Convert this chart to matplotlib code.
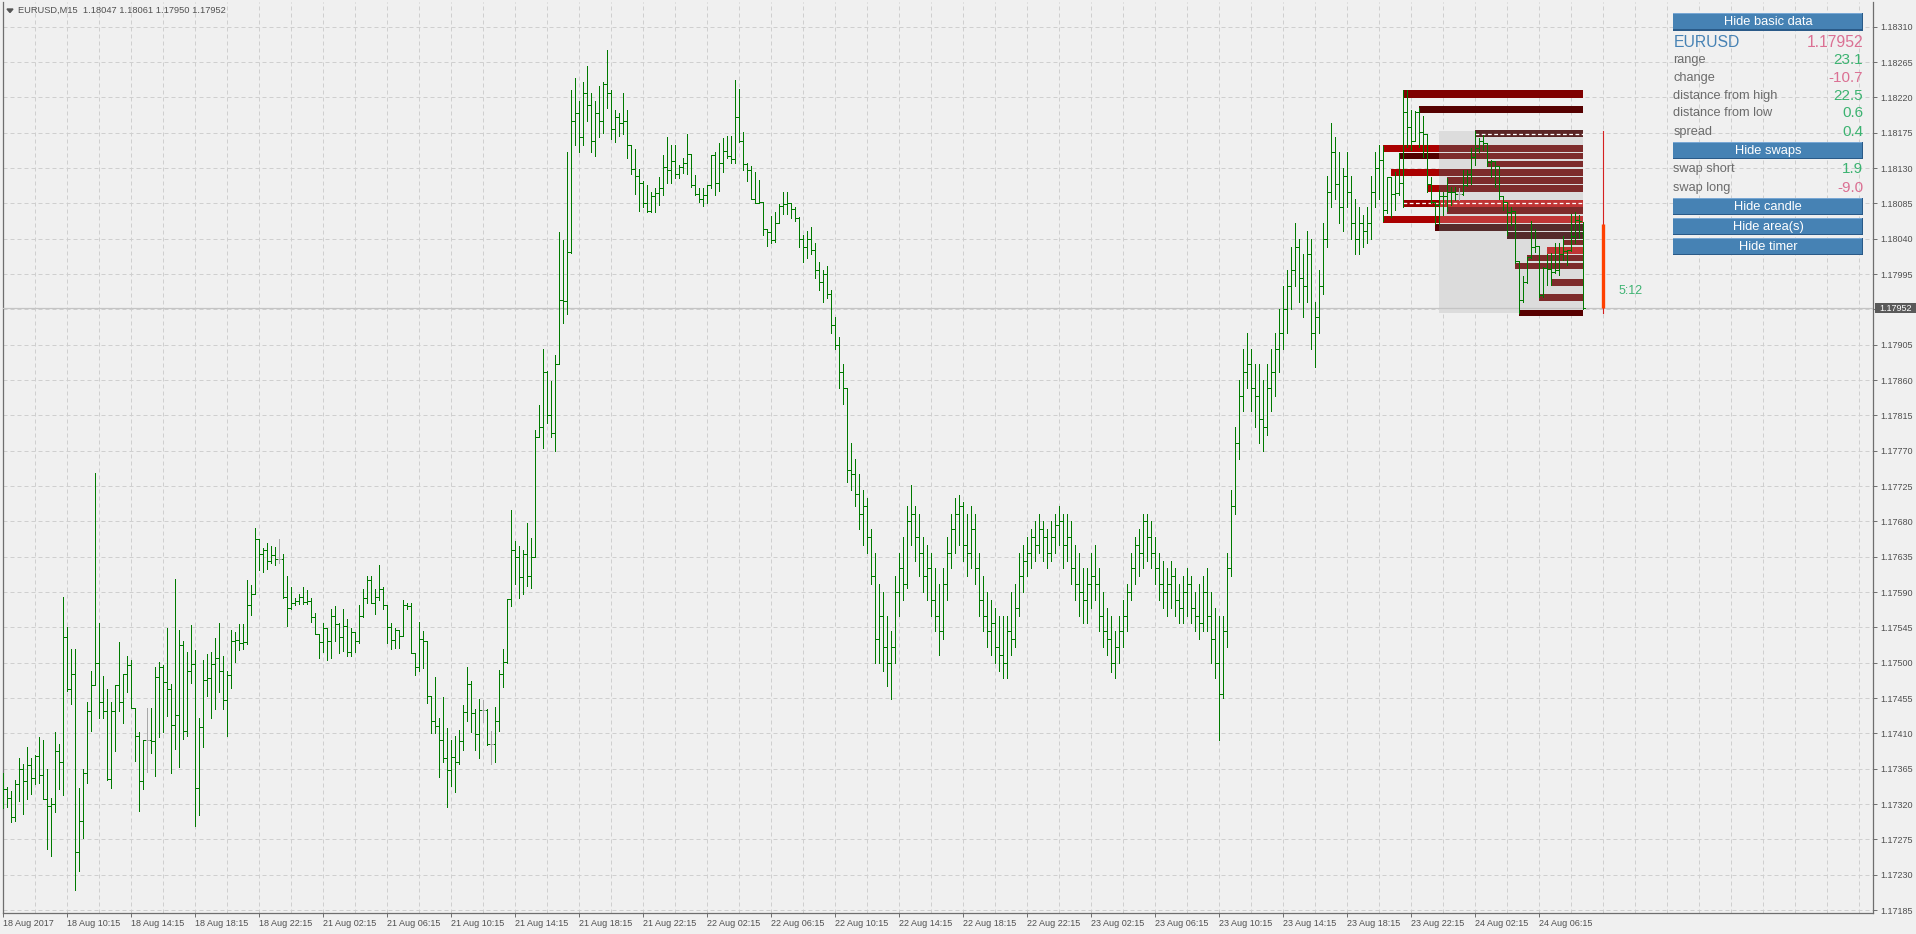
import matplotlib.pyplot as plt
from matplotlib.collections import LineCollection
from matplotlib.patches import Rectangle, Polygon

plt.rcParams['font.family'] = ['Liberation Sans', 'DejaVu Sans']

# prices are kept in points (1e-5) above 1.17000, one entry per M15 bar
BASE = 1.17

bar_open = [
    342, 339, 328, 304, 346, 364, 349, 370, 353, 381,
    357, 327, 318, 320, 387, 373, 533, 467, 486, 259,
    299, 360, 438, 472, 499, 450, 438, 352, 438, 471,
    450, 485, 497, 442, 407, 349, 401, 401, 400, 482,
    495, 475, 466, 421, 433, 523, 413, 490, 498, 341,
    418, 478, 481, 498, 506, 490, 453, 484, 528, 529,
    525, 526, 573, 587, 657, 638, 644, 630, 637, 632,
    632, 584, 570, 576, 578, 584, 577, 578, 558, 537,
    526, 544, 527, 559, 549, 533, 547, 513, 539, 527,
    559, 582, 605, 576, 584, 594, 573, 546, 529, 542,
    534, 573, 572, 512, 494, 530, 527, 458, 426, 420,
    402, 378, 363, 380, 373, 400, 437, 473, 436, 409,
    440, 440, 396, 396, 426, 486, 501, 581, 643, 634,
    609, 639, 611, 635, 788, 800, 870, 816, 792, 881,
    962, 961, 1023, 1190, 1200, 1170, 1225, 1210, 1165, 1200,
    1190, 1237, 1225, 1180, 1195, 1188, 1190, 1160, 1129, 1120,
    1111, 1086, 1075, 1094, 1098, 1105, 1131, 1128, 1139, 1123,
    1131, 1136, 1148, 1109, 1097, 1091, 1096, 1108, 1146, 1111,
    1137, 1152, 1145, 1141, 1195, 1164, 1135, 1128, 1091, 1086,
    1087, 1052, 1049, 1039, 1060, 1082, 1084, 1085, 1078, 1066,
    1040, 1030, 1040, 1025, 1000, 985, 995, 970, 930, 905,
    870, 850, 745, 740, 715, 690, 700, 660, 610, 530,
    560, 520, 500, 520, 590, 620, 600, 680, 690, 660,
    640, 610, 620, 580, 560, 540, 600, 640, 670, 690,
    700, 650, 640, 670, 620, 580, 560, 540, 550, 520,
    510, 500, 540, 530, 570, 610, 630, 640, 660, 650,
    670, 660, 640, 660, 675, 680, 650, 660, 620, 600,
    590, 580, 600, 610, 600, 560, 540, 530, 500, 520,
    540, 560, 590, 620, 650, 640, 680, 660, 640, 620,
    600, 590, 600, 610, 580, 570, 590, 600, 570, 560,
    550, 590, 560, 530, 500, 460, 540, 620, 700, 780,
    840, 870, 880, 850, 840, 810, 800, 850, 870, 900,
    920, 950, 980, 1000, 1030, 990, 980, 1020, 920, 940,
    980, 1040, 1100, 1150, 1110, 1080, 1120, 1100, 1060, 1040,
    1060, 1050, 1060, 1100, 1130, 1140, 1077, 1118, 1097, 1098,
    1111, 1202, 1182, 1165, 1201, 1176, 1174, 1110, 1087, 1083,
    1094, 1095, 1099, 1100, 1097, 1097, 1108, 1123, 1144, 1155,
    1164, 1162, 1138, 1139, 1132, 1094, 1087, 1074, 1075, 1011,
    962, 985, 1017, 1030, 1031, 968, 1003, 1001, 998, 1000,
    1021, 1024, 1025, 1043, 1064, 1047]
bar_high = [
    359, 342, 336, 351, 379, 371, 392, 379, 382, 406,
    401, 365, 328, 412, 397, 584, 546, 518, 518, 340,
    364, 450, 489, 741, 550, 483, 466, 450, 472, 526,
    486, 508, 503, 442, 412, 402, 442, 442, 495, 501,
    497, 544, 473, 606, 542, 528, 514, 548, 516, 430,
    503, 511, 513, 532, 550, 509, 489, 542, 539, 549,
    549, 605, 599, 672, 657, 646, 652, 649, 647, 657,
    638, 610, 596, 583, 587, 596, 593, 583, 563, 537,
    551, 544, 568, 572, 550, 569, 556, 544, 539, 573,
    594, 610, 610, 594, 624, 596, 573, 551, 544, 542,
    580, 576, 576, 512, 552, 540, 527, 458, 482, 430,
    456, 417, 402, 407, 414, 446, 495, 477, 441, 454,
    452, 441, 413, 443, 491, 517, 581, 695, 655, 649,
    644, 678, 659, 796, 828, 899, 872, 859, 892, 1049,
    1039, 1150, 1230, 1245, 1215, 1240, 1260, 1225, 1215, 1235,
    1239, 1280, 1230, 1204, 1200, 1225, 1204, 1160, 1154, 1129,
    1114, 1109, 1099, 1105, 1119, 1146, 1170, 1160, 1159, 1134,
    1143, 1174, 1148, 1121, 1105, 1104, 1109, 1146, 1150, 1162,
    1168, 1171, 1171, 1242, 1231, 1176, 1136, 1132, 1125, 1115,
    1087, 1052, 1069, 1074, 1084, 1099, 1099, 1085, 1081, 1068,
    1045, 1050, 1055, 1035, 1010, 1000, 1005, 975, 940, 915,
    880, 850, 780, 760, 740, 720, 710, 670, 640, 600,
    590, 560, 540, 610, 640, 660, 700, 726, 700, 690,
    660, 650, 640, 620, 600, 620, 660, 690, 710, 714,
    705, 690, 700, 690, 640, 610, 590, 580, 570, 560,
    560, 560, 590, 600, 640, 650, 660, 670, 680, 690,
    680, 670, 680, 690, 700, 690, 690, 680, 650, 640,
    620, 620, 640, 650, 620, 590, 570, 560, 540, 560,
    580, 600, 640, 660, 670, 690, 690, 680, 660, 640,
    630, 620, 630, 620, 600, 610, 620, 610, 590, 600,
    610, 620, 590, 570, 560, 560, 640, 720, 800, 860,
    900, 920, 900, 880, 880, 860, 880, 900, 920, 950,
    980, 1000, 1030, 1060, 1040, 1020, 1050, 1040, 960, 1000,
    1060, 1120, 1188, 1170, 1150, 1130, 1150, 1120, 1090, 1080,
    1070, 1080, 1120, 1150, 1160, 1158, 1119, 1119, 1125, 1149,
    1229, 1229, 1204, 1203, 1207, 1196, 1174, 1119, 1087, 1102,
    1100, 1117, 1106, 1106, 1104, 1128, 1128, 1156, 1177, 1168,
    1172, 1162, 1140, 1139, 1132, 1094, 1087, 1081, 1075, 1011,
    992, 1017, 1062, 1053, 1031, 1004, 1021, 1022, 1034, 1034,
    1043, 1026, 1072, 1074, 1070, 1061]
bar_low = [
    315, 316, 297, 299, 324, 307, 326, 333, 346, 347,
    327, 263, 254, 310, 339, 331, 464, 447, 211, 235,
    277, 347, 413, 471, 430, 430, 351, 341, 388, 438,
    423, 463, 442, 375, 311, 339, 361, 385, 356, 405,
    412, 432, 360, 390, 367, 403, 407, 474, 292, 306,
    392, 458, 430, 441, 463, 441, 407, 468, 501, 516,
    518, 524, 561, 587, 618, 616, 619, 627, 624, 627,
    583, 547, 569, 574, 575, 575, 575, 552, 537, 506,
    513, 504, 506, 527, 512, 515, 508, 509, 514, 525,
    558, 576, 576, 562, 580, 569, 525, 518, 519, 519,
    534, 568, 512, 484, 489, 493, 449, 410, 410, 354,
    373, 316, 343, 335, 371, 389, 426, 412, 389, 378,
    424, 395, 371, 373, 413, 469, 500, 572, 600, 583,
    587, 598, 595, 635, 787, 774, 805, 788, 769, 880,
    933, 944, 1022, 1160, 1150, 1160, 1190, 1150, 1145, 1170,
    1175, 1206, 1167, 1163, 1171, 1173, 1143, 1122, 1097, 1075,
    1080, 1074, 1074, 1074, 1083, 1096, 1111, 1111, 1117, 1117,
    1124, 1123, 1106, 1096, 1087, 1082, 1086, 1105, 1096, 1101,
    1125, 1143, 1136, 1137, 1163, 1128, 1114, 1090, 1086, 1086,
    1045, 1031, 1035, 1036, 1060, 1071, 1071, 1067, 1063, 1030,
    1010, 1015, 1020, 990, 975, 960, 965, 920, 900, 850,
    830, 730, 720, 700, 670, 650, 640, 600, 500, 500,
    490, 470, 454, 500, 560, 580, 595, 650, 630, 610,
    590, 580, 560, 540, 510, 530, 580, 620, 640, 650,
    630, 610, 620, 600, 560, 540, 520, 510, 500, 490,
    480, 480, 510, 520, 560, 590, 610, 620, 630, 640,
    630, 620, 630, 640, 650, 620, 630, 600, 580, 560,
    550, 550, 570, 580, 540, 520, 510, 488, 480, 500,
    520, 540, 580, 600, 610, 620, 630, 620, 600, 580,
    570, 560, 570, 560, 550, 550, 560, 550, 540, 530,
    540, 540, 500, 480, 402, 455, 520, 610, 690, 760,
    820, 850, 820, 800, 780, 770, 790, 820, 840, 870,
    900, 920, 950, 980, 960, 940, 960, 900, 877, 920,
    970, 1030, 1080, 1090, 1060, 1050, 1080, 1040, 1020, 1020,
    1030, 1035, 1040, 1080, 1090, 1062, 1073, 1068, 1077, 1096,
    1081, 1157, 1153, 1164, 1157, 1144, 1100, 1086, 1059, 1059,
    1070, 1075, 1083, 1089, 1089, 1096, 1107, 1110, 1134, 1151,
    1153, 1132, 1119, 1106, 1091, 1077, 1045, 1057, 1009, 946,
    960, 983, 1015, 1023, 966, 966, 981, 981, 996, 994,
    1013, 1006, 1024, 1034, 1041, 950]
bar_close = [
    339, 328, 304, 346, 364, 349, 370, 353, 381, 357,
    327, 318, 320, 387, 373, 533, 467, 486, 259, 299,
    360, 438, 472, 499, 450, 438, 352, 438, 471, 450,
    485, 497, 442, 407, 349, 401, 401, 400, 482, 495,
    475, 466, 421, 433, 523, 413, 490, 498, 341, 418,
    478, 481, 498, 506, 490, 453, 484, 528, 529, 525,
    526, 573, 587, 657, 638, 644, 630, 637, 632, 632,
    584, 570, 576, 578, 584, 577, 578, 558, 537, 526,
    544, 527, 559, 549, 533, 547, 513, 539, 527, 559,
    582, 605, 576, 584, 594, 573, 546, 529, 542, 534,
    573, 572, 512, 494, 530, 527, 458, 426, 420, 402,
    378, 363, 380, 373, 400, 437, 473, 436, 409, 440,
    440, 396, 396, 426, 486, 501, 581, 643, 634, 609,
    639, 611, 635, 788, 800, 870, 816, 792, 881, 962,
    961, 1023, 1190, 1200, 1170, 1225, 1210, 1165, 1200, 1190,
    1237, 1225, 1180, 1195, 1188, 1190, 1160, 1129, 1120, 1111,
    1086, 1075, 1094, 1098, 1105, 1131, 1128, 1139, 1123, 1131,
    1136, 1148, 1109, 1097, 1091, 1096, 1108, 1146, 1111, 1137,
    1152, 1145, 1141, 1195, 1164, 1135, 1128, 1091, 1086, 1087,
    1052, 1049, 1039, 1060, 1082, 1084, 1085, 1078, 1066, 1040,
    1030, 1040, 1025, 1000, 985, 995, 970, 930, 905, 870,
    850, 745, 740, 715, 690, 700, 660, 610, 530, 560,
    520, 500, 520, 590, 620, 600, 680, 690, 660, 640,
    610, 620, 580, 560, 540, 600, 640, 670, 690, 700,
    650, 640, 670, 620, 580, 560, 540, 550, 520, 510,
    500, 540, 530, 570, 610, 630, 640, 660, 650, 670,
    660, 640, 660, 675, 680, 650, 660, 620, 600, 590,
    580, 600, 610, 600, 560, 540, 530, 500, 520, 540,
    560, 590, 620, 650, 640, 680, 660, 640, 620, 600,
    590, 600, 610, 580, 570, 590, 600, 570, 560, 550,
    590, 560, 530, 500, 460, 540, 620, 700, 780, 840,
    870, 880, 850, 840, 810, 800, 850, 870, 900, 920,
    950, 980, 1000, 1030, 990, 980, 1020, 920, 940, 980,
    1040, 1100, 1150, 1110, 1080, 1120, 1100, 1060, 1040, 1060,
    1050, 1060, 1100, 1130, 1140, 1077, 1118, 1097, 1098, 1111,
    1202, 1182, 1165, 1201, 1176, 1174, 1110, 1087, 1083, 1094,
    1095, 1099, 1100, 1097, 1097, 1108, 1123, 1144, 1155, 1164,
    1162, 1138, 1139, 1132, 1094, 1087, 1074, 1075, 1011, 962,
    985, 1017, 1030, 1031, 968, 1003, 1001, 998, 1000, 1021,
    1024, 1025, 1043, 1064, 1063, 952]

time_labels = ['18 Aug 2017', '18 Aug 10:15', '18 Aug 14:15', '18 Aug 18:15', '18 Aug 22:15',
               '21 Aug 02:15', '21 Aug 06:15', '21 Aug 10:15', '21 Aug 14:15', '21 Aug 18:15', '21 Aug 22:15',
               '22 Aug 02:15', '22 Aug 06:15', '22 Aug 10:15', '22 Aug 14:15', '22 Aug 18:15', '22 Aug 22:15',
               '23 Aug 02:15', '23 Aug 06:15', '23 Aug 10:15', '23 Aug 14:15', '23 Aug 18:15', '23 Aug 22:15',
               '24 Aug 02:15', '24 Aug 06:15']
price_ticks = list(range(185, 1311, 45))

# today's area (bars from 24 Aug 00:00) and the zones drawn up to the last bar
day_start, last_bar = 359, 395
day_high, day_low, day_open, bid = 1177, 946, 1059, 952
zone_start = [350, 354, 368, 345, 349, 371, 347, 361, 356, 350, 361, 345, 358, 376, 390, 386, 381, 378, 387, 384, 379]
zone_top = [1229, 1209, 1178, 1159, 1149, 1139, 1129, 1119, 1108, 1089, 1080, 1069, 1059, 1049, 1039, 1029, 1019, 1009, 989, 970, 949]
zone_bottom = [1219, 1200, 1170, 1151, 1141, 1131, 1120, 1110, 1100, 1081, 1071, 1060, 1050, 1040, 1032, 1021, 1011, 1001, 980, 961, 941]
zone_out = ['#800000', '#550000', '#5a2525', '#aa0000', '#520000', '#7d2b2b', '#aa0000', '#7d2b2b', '#aa0000', '#990000',
            '#7d2b2b', '#aa0000', '#550000', '#552a2a', '#7d2b2b', '#c03535', '#7d2b2b', '#7d2b2b', '#7d2b2b', '#7d2b2b', '#580000']
zone_in = ['#800000', '#550000', '#5a2525', '#7d2b2b', '#7d2b2b', '#7d2b2b', '#7d2b2b', '#7d2b2b', '#7d2b2b', '#c03535',
           '#7d2b2b', '#c03535', '#552a2a', '#552a2a', '#7d2b2b', '#c03535', '#7d2b2b', '#7d2b2b', '#7d2b2b', '#7d2b2b', '#580000']
dash_levels = [1174, 1085]
dash_start = [368, 350]


def px(v):
    return BASE + v / 1e5


W, H = 1916, 934
fig = plt.figure(figsize=(W / 100, H / 100), dpi=100, facecolor='#f0f0f0')
ax = fig.add_axes([2.5 / W, (H - 913) / H, (1873 - 2.5) / W, 911 / H])
ax.set_facecolor('#f0f0f0')
ax.set_xlim(-0.21, 467.4)
ax.set_ylim(1.171812, 1.183415)

# grid
for k in range(8, 468, 8):
    ax.axvline(k, color='#cfcfcf', lw=0.72, ls=(0, (4, 3)), zorder=0.5)
for v in price_ticks:
    ax.axhline(px(v), color='#cfcfcf', lw=0.72, ls=(0, (4, 3)), zorder=0.5)

# day area
ax.add_patch(Rectangle((day_start, px(day_low)), last_bar - day_start, px(day_high) - px(day_low),
                       facecolor='#dcdcdc', edgecolor='none', zorder=1))

# zones
for s, t, b, co, ci in zip(zone_start, zone_top, zone_bottom, zone_out, zone_in):
    if s < day_start:
        ax.add_patch(Rectangle((s, px(b)), day_start - s, px(t) - px(b), facecolor=co, edgecolor='none', zorder=2))
        ax.add_patch(Rectangle((day_start, px(b)), last_bar - day_start, px(t) - px(b), facecolor=ci, edgecolor='none', zorder=2))
    else:
        ax.add_patch(Rectangle((s, px(b)), last_bar - s, px(t) - px(b), facecolor=ci, edgecolor='none', zorder=2))
for lv, s in zip(dash_levels, dash_start):
    ax.plot([s, last_bar], [px(lv), px(lv)], color='white', lw=0.9, ls=(0, (3, 2)), zorder=3)

# bid line
ax.axhline(px(bid), color='#c4c4c4', lw=0.9, zorder=3)

# OHLC bars
segs, cols = [], []
for i, (o, h, l, c) in enumerate(zip(bar_open, bar_high, bar_low, bar_close)):
    segs.append([(i, px(l)), (i, px(h))])
    segs.append([(i - 0.45, px(o)), (i, px(o))])
    segs.append([(i, px(c)), (i + 0.45, px(c))])
    cols += ['#a8a8a8' if o == c else '#007a00'] * 3
ax.add_collection(LineCollection(segs, colors=cols, linewidths=0.7, capstyle='butt',
                                 antialiaseds=False, zorder=4))

# daily candle on the right
ax.plot([400, 400], [px(day_low), px(day_high)], color='#d42020', lw=0.8, zorder=4)
ax.plot([400, 400], [px(bid), px(day_open)], color='#ff4000', lw=2.4, solid_capstyle='butt', zorder=4)
ax.text(403.9, px(973), '5:12', color='#3cb371', fontsize=8.9, ha='left', va='center', zorder=5)

# axes styling
ax.spines['top'].set_visible(False)
for side in ['left', 'right', 'bottom']:
    ax.spines[side].set_color('#6e6e6e')
    ax.spines[side].set_linewidth(0.9)
ax.yaxis.tick_right()
ax.set_yticks([px(v) for v in price_ticks])
ax.set_yticklabels(['%.5f' % px(v) for v in price_ticks])
ax.set_xticks(range(0, 16 * len(time_labels), 16))
ax.set_xticklabels(time_labels)
ax.tick_params(axis='both', direction='out', length=3, width=0.7, color='#6e6e6e',
               labelsize=6.5, labelcolor='#505050')
ax.tick_params(axis='y', pad=2)
ax.tick_params(axis='x', pad=1.5)
for lab in ax.get_xticklabels():
    lab.set_ha('left')

# overlay in pixel space for header, panel and bid label
ov = fig.add_axes([0, 0, 1, 1])
ov.set_xlim(0, W)
ov.set_ylim(H, 0)
ov.axis('off')
ov.patch.set_visible(False)

ov.add_patch(Polygon([(7, 9), (13, 9), (10, 12.5)], closed=True, color='#555555'))
ov.text(18.3, 10.7, 'EURUSD,M15  1.18047 1.18061 1.17950 1.17952', fontsize=6.7, color='#505050',
        ha='left', va='center')

ov.add_patch(Rectangle((1875, 303.3), 41, 10, facecolor='#5a5a5a', edgecolor='none'))
ov.text(1879, 308.5, '1.17952', fontsize=6.5, color='white', ha='left', va='center')

PL, PR = 1673.3, 1863.3


def button(y0, y1, label):
    ov.add_patch(Rectangle((PL, y0), PR - PL, y1 - y0, facecolor='#4682b4', edgecolor='none'))
    ov.add_patch(Rectangle((PL, y0), PR - PL, 1.2, facecolor='#78a7d4', edgecolor='none'))
    ov.add_patch(Rectangle((PL, y1 - 1.5), PR - PL, 1.5, facecolor='#2a5a88', edgecolor='none'))
    ov.add_patch(Rectangle((PR - 1.5, y0), 1.5, y1 - y0, facecolor='#2a5a88', edgecolor='none'))
    ov.text((PL + PR) / 2, (y0 + y1) / 2 + 0.3, label, fontsize=9.3, color='white', ha='center', va='center')


button(13.3, 30.7, 'Hide basic data')
button(141.7, 159.0, 'Hide swaps')
button(197.7, 215.0, 'Hide candle')
button(217.7, 235.0, 'Hide area(s)')
button(237.7, 255.0, 'Hide timer')

green, pink, grey = '#3cb371', '#db7093', '#6b6b6b'
ov.text(PL, 42.7, 'EURUSD', fontsize=11.3, color='#4682b4', ha='left', va='center')
ov.text(PR, 42.7, '1.17952', fontsize=11.3, color=pink, ha='right', va='center')
rows = [('range', '23.1', green, 60.0), ('change', '-10.7', pink, 77.7),
        ('distance from high', '22.5', green, 95.7), ('distance from low', '0.6', green, 113.3),
        ('spread', '0.4', green, 131.7), ('swap short', '1.9', green, 169.3), ('swap long', '-9.0', pink, 188.0)]
for name, val, col, yy in rows:
    ov.text(PL, yy, name, fontsize=9.2, color=grey, ha='left', va='center')
    ov.text(PR, yy, val, fontsize=11, color=col, ha='right', va='center')

fig.savefig('out.png', dpi=100, facecolor='#f0f0f0')
